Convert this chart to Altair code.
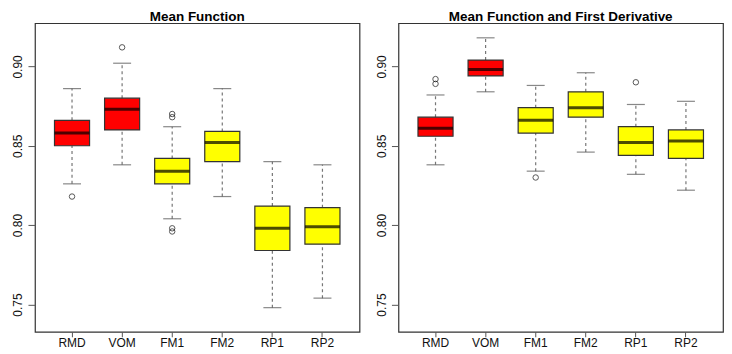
import altair as alt
import pandas as pd

methods = ["RMD", "VOM", "FM1", "FM2", "RP1", "RP2"]
fills = ["#FF0000", "#FF0000", "#FFFF00", "#FFFF00", "#FFFF00", "#FFFF00"]

# Panel 1: Mean Function
p1_title = "Mean Function"
p1_wlo = [0.826, 0.838, 0.804, 0.818, 0.748, 0.754]
p1_q1 = [0.850, 0.860, 0.826, 0.840, 0.784, 0.788]
p1_med = [0.858, 0.873, 0.834, 0.852, 0.798, 0.799]
p1_q3 = [0.866, 0.880, 0.842, 0.859, 0.812, 0.811]
p1_whi = [0.886, 0.902, 0.862, 0.886, 0.840, 0.838]
p1_out_m = ["RMD", "VOM", "FM1", "FM1", "FM1", "FM1"]
p1_out_v = [0.818, 0.912, 0.870, 0.868, 0.798, 0.796]

# Panel 2: Mean Function and First Derivative
p2_title = "Mean Function and First Derivative"
p2_wlo = [0.838, 0.884, 0.834, 0.846, 0.832, 0.822]
p2_q1 = [0.856, 0.894, 0.858, 0.868, 0.844, 0.842]
p2_med = [0.861, 0.898, 0.866, 0.874, 0.852, 0.853]
p2_q3 = [0.868, 0.904, 0.874, 0.884, 0.862, 0.860]
p2_whi = [0.882, 0.918, 0.888, 0.896, 0.876, 0.878]
p2_out_m = ["RMD", "RMD", "FM1", "RP1"]
p2_out_v = [0.892, 0.889, 0.830, 0.890]

y_ticks = [0.75, 0.80, 0.85, 0.90]
y_domain = [0.7328, 0.9272]

W, H = 325, 309
FONT = "Liberation Sans"


def panel(title, wlo, q1, med, q3, whi, out_m, out_v):
    df = pd.DataFrame({"m": methods, "fill": fills, "wlo": wlo, "q1": q1,
                       "med": med, "q3": q3, "whi": whi})
    dfo = pd.DataFrame({"m": out_m, "v": out_v})
    x = alt.X("m:N", sort=methods, title=None,
              scale=alt.Scale(domain=methods, paddingInner=0, paddingOuter=0.24),
              axis=alt.Axis(labelAngle=0, tickSize=5, labelPadding=1, domain=False,
                            labelFontSize=12, labelFont=FONT, labelColor="#111",
                            tickColor="#555"))
    yscale = alt.Scale(domain=y_domain, nice=False, zero=False)
    yaxis = alt.Axis(values=y_ticks, format=".2f", labelAngle=270, labelAlign="center",
                     labelBaseline="bottom", tickSize=7, labelPadding=3, domain=False,
                     grid=False, labelFontSize=12, labelFont=FONT, labelColor="#111",
                     tickColor="#555")
    base = alt.Chart(df)
    wl = base.mark_rule(color="#777", strokeDash=[3, 3], strokeWidth=1.2).encode(
        x=x, y=alt.Y("wlo:Q", scale=yscale, axis=yaxis, title=None), y2="q1:Q")
    wh = base.mark_rule(color="#777", strokeDash=[3, 3], strokeWidth=1.2).encode(
        x=x, y=alt.Y("q3:Q"), y2="whi:Q")
    cap_lo = base.mark_tick(color="#555", size=18, thickness=1.2).encode(x=x, y="wlo:Q")
    cap_hi = base.mark_tick(color="#555", size=18, thickness=1.2).encode(x=x, y="whi:Q")
    box = base.mark_bar(width={"band": 0.7}, stroke="#333", strokeWidth=1.2).encode(
        x=x, y="q1:Q", y2="q3:Q", fill=alt.Fill("fill:N", scale=None))
    medt = base.mark_tick(color="#000", size=35, thickness=3).encode(x=x, y="med:Q")
    outl = alt.Chart(dfo).mark_point(shape="circle", filled=False, color="#111",
                                     size=30, strokeWidth=1).encode(x=x, y="v:Q")
    return alt.layer(wl, wh, cap_lo, cap_hi, box, medt, outl).properties(
        width=W, height=H,
        title=alt.TitleParams(title, fontSize=13.5, font=FONT, fontWeight="bold",
                              anchor="middle", offset=0, color="#000"))


c1 = panel(p1_title, p1_wlo, p1_q1, p1_med, p1_q3, p1_whi, p1_out_m, p1_out_v)
c2 = panel(p2_title, p2_wlo, p2_q1, p2_med, p2_q3, p2_whi, p2_out_m, p2_out_v)

chart = alt.hconcat(c1, c2, spacing=14).properties(
    padding={"left": 3, "top": 0, "right": 0, "bottom": 0},
    background="white",
).configure_view(stroke="#333", strokeWidth=1.2)

chart.save("out.html", embed_options={"renderer": "svg", "actions": False})
